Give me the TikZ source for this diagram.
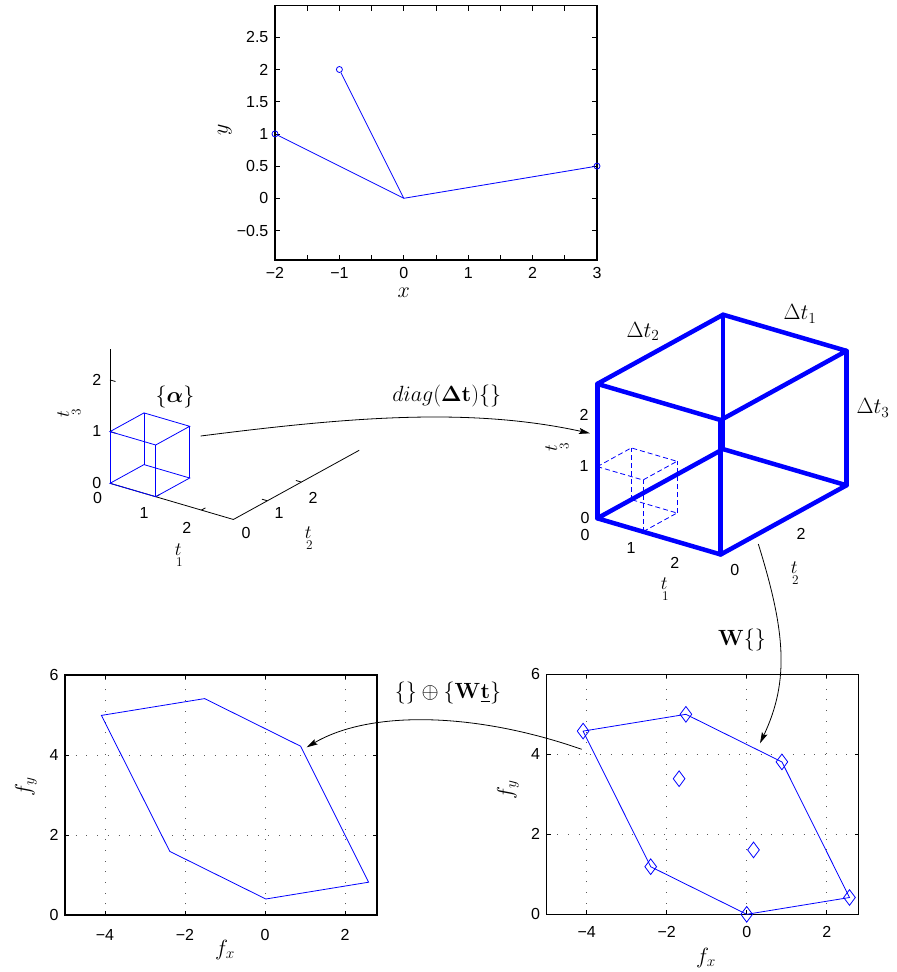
\documentclass[tikz,border=0pt]{standalone}
\usepackage{fix-cm}
\usepackage{amsmath,amssymb,bm}
\usepackage[no-math]{fontspec}
\newfontfamily\ticksans{Liberation Sans}
\usetikzlibrary{arrows.meta,shapes.geometric}

% subscript set low, as the plotting program does it
\newcommand{\lowsub}[2]{#1\mkern-5mu{}_{\raisebox{-8.5pt}{$\scriptstyle #2$}}}

\begin{document}
\begin{tikzpicture}[
  x=1pt, y=-1pt,
  axbox/.style={line width=1.4pt},
  tickmark/.style={line width=0.8pt},
  gridline/.style={black!65, line width=0.9pt, dash pattern=on 0.9pt off 9.8pt},
  dataline/.style={blue, line width=0.8pt},
  ticklab/.style={font=\ticksans\fontsize{16}{19}\selectfont, inner sep=0pt},
  mathlab/.style={font=\fontsize{22}{26}\selectfont, inner sep=0pt},
  tlab/.style={font=\fontsize{19}{23}\selectfont, inner sep=0pt},
  ringmark/.style={draw=blue, line width=0.8pt, circle, minimum size=6pt, inner sep=0pt},
  diamark/.style={draw=blue, line width=0.8pt, diamond, minimum width=12pt, minimum height=16pt, inner sep=0pt},
  mapping/.style={line width=0.8pt, -{Stealth[length=11pt,width=6pt,inset=2pt]}},
  thinbox/.style={blue, line width=0.8pt},
  hidbox/.style={blue, line width=0.8pt, dash pattern=on 5pt off 3pt},
  bigbox/.style={blue, line width=4.5pt, line cap=round, line join=round}
]
\useasboundingbox (0,0) rectangle (897,972);

% vectors in the (x,y) plane
\begin{scope}[shift={(403.8,198.3)}, x=64.4pt, y=64.4pt]
  \draw[axbox] (-2,-0.96) rectangle (3,2.99);
  \foreach \u in {-1.5,-1,...,2.5} {
    \draw[tickmark] (\u,-0.96) -- ++(0,0.08);
    \draw[tickmark] (\u,2.99) -- ++(0,-0.08);
  }
  \foreach \v in {-0.5,0,...,2.5} {
    \draw[tickmark] (-2,\v) -- ++(0.08,0);
    \draw[tickmark] (3,\v) -- ++(-0.08,0);
  }
  \foreach \u/\s [count=\k] in {-2/−2, -1/−1, 0/0, 1/1, 2/2, 3/3}
    \node[ticklab] (tx\k) at (\u,-1.16) {\s};
  \foreach \v/\s [count=\k] in {-0.5/−0.5, 0/0, 0.5/0.5, 1/1, 1.5/1.5, 2/2, 2.5/2.5}
    \node[ticklab, anchor=east] (ty\k) at (-2.1,\v) {\s};
  \coordinate (po) at (0,0);
  \node[ringmark] (pa) at (-2,1) {};
  \node[ringmark] (pb) at (-1,2) {};
  \node[ringmark] (pc) at (3,0.5) {};
  \draw[dataline] (pa) -- (po) -- (pc);
  \draw[dataline] (pb) -- (po);
  \node[mathlab] (xlab) at (0,-1.47) {$x$};
  \node[mathlab, rotate=90] (ylab) at (-2.78,1.06) {$y$};
\end{scope}

% unit cube in t-space
\begin{scope}[shift={(110,483.3)}, x={(45.7pt,-13.4pt)}, y={(34pt,18.7pt)}, z={(0pt,51.7pt)}]
  \draw[tickmark] (0,0,0) -- (0,0,2.6);
  \draw[tickmark] (0,0,0) -- (2.7,0,0) -- (2.7,3.7,0);
  \foreach \w in {1,2} {
    \draw[tickmark] (0,0,\w) -- ++(0.12,0,0);
    \draw[tickmark] (\w,0,0) -- ++(0,0.12,0);
    \draw[tickmark] (2.7,\w,0) -- ++(-0.12,0,0);
  }
  \draw[thinbox] (0,0,0) -- (1,0,0) -- (1,1,0) -- (0,1,0) -- cycle;
  \draw[thinbox] (0,0,1) -- (1,0,1) -- (1,1,1) -- (0,1,1) -- cycle;
  \foreach \a/\b in {0/0,1/0,1/1,0/1}
    \draw[thinbox] (\a,\b,0) -- (\a,\b,1);
\end{scope}

% scaled box in t-space
\begin{scope}[shift={(597.3,518.3)}, x={(45.7pt,-13.4pt)}, y={(34pt,18.7pt)}, z={(0pt,51.7pt)}]
  \draw[hidbox] (0,0,0) -- (1,0,0) -- (1,1,0) -- (0,1,0) -- cycle;
  \draw[hidbox] (0,0,1) -- (1,0,1) -- (1,1,1) -- (0,1,1) -- cycle;
  \foreach \a/\b in {0/0,1/0,1/1,0/1}
    \draw[hidbox] (\a,\b,0) -- (\a,\b,1);
  \draw[bigbox] (0,0,0) -- (2.7,0,0) -- (2.7,3.7,0) -- (0,3.7,0) -- cycle;
  \draw[bigbox] (0,0,2.6) -- (2.7,0,2.6) -- (2.7,3.7,2.6) -- (0,3.7,2.6) -- cycle;
  \foreach \a/\b in {0/0,2.7/0,2.7/3.7,0/3.7}
    \draw[bigbox] (\a,\b,0) -- (\a,\b,2.6);
\end{scope}

% tick labels of the two cube plots
\foreach \px/\py/\s [count=\k] in {96.7/483/0, 96.7/431/1, 96.7/380/2,
    97.5/498.3/0, 144/513.3/1, 186.7/527.5/2, 246/533.3/0, 279/513.3/1, 313/498/2,
    585/518/0, 584/466/1, 584/414.5/2, 585/535/0, 631/548.3/1, 674.7/563/2,
    734.7/570/0, 801/534/2}
  \node[ticklab] (ct\k) at (\px,\py) {\s};
\node[tlab, rotate=90] (lt3) at (69,413) {$\lowsub{t}{3}$};
\node[tlab] (lt1) at (179,555) {$\lowsub{t}{1}$};
\node[tlab] (lt2) at (309,538) {$\lowsub{t}{2}$};
\node[tlab, rotate=90] (rt3) at (557,447) {$\lowsub{t}{3}$};
\node[tlab] (rt1) at (665,589) {$\lowsub{t}{1}$};
\node[tlab] (rt2) at (795,573) {$\lowsub{t}{2}$};
\node[mathlab] (alphalab) at (175,396.7) {$\{\boldsymbol{\alpha}\}$};
\node[mathlab] (dt1) at (800,314) {$\Delta t_1$};
\node[mathlab] (dt2) at (643,331.7) {$\Delta t_2$};
\node[mathlab] (dt3) at (873,408) {$\Delta t_3$};

% Minkowski sum result
\begin{scope}[shift={(265,915)}, x=40pt, y=40pt]
  \foreach \u in {-4,-2,0,2} \draw[gridline] (\u,0) -- (\u,6);
  \foreach \v in {2,4} \draw[gridline] (-5,\v) -- (2.8,\v);
  \draw[axbox] (-5,0) rectangle (2.8,6);
  \foreach \u in {-4,-2,0,2} {
    \draw[tickmark] (\u,0) -- ++(0,0.1);
    \draw[tickmark] (\u,6) -- ++(0,-0.1);
  }
  \foreach \v in {2,4} {
    \draw[tickmark] (-5,\v) -- ++(0.1,0);
    \draw[tickmark] (2.8,\v) -- ++(-0.1,0);
  }
  \draw[dataline] (0.02,0.4) -- (2.59,0.82) -- (0.89,4.22) -- (-1.51,5.41)
    -- (-4.09,4.99) -- (-2.38,1.59) -- cycle;
  \foreach \u/\s [count=\k] in {-4/−4, -2/−2, 0/0, 2/2}
    \node[ticklab] (lfx\k) at (\u,-0.5) {\s};
  \foreach \v [count=\k] in {0,2,4,6}
    \node[ticklab, anchor=east] (lfy\k) at (-5.16,\v) {\v};
\end{scope}
\node[mathlab] (lfxlab) at (225,950) {$f_x$};
\node[mathlab, rotate=90] (lfylab) at (26,787) {$f_y$};

% image of the box under W
\begin{scope}[shift={(746.7,914.3)}, x=40pt, y=40pt]
  \foreach \u in {-4,-2,0,2} \draw[gridline] (\u,0) -- (\u,6);
  \foreach \v in {2,4} \draw[gridline] (-5,\v) -- (2.8,\v);
  \draw[axbox] (-5,0) rectangle (2.8,6);
  \foreach \u in {-4,-2,0,2} {
    \draw[tickmark] (\u,0) -- ++(0,0.1);
    \draw[tickmark] (\u,6) -- ++(0,-0.1);
  }
  \foreach \v in {2,4} {
    \draw[tickmark] (-5,\v) -- ++(0.1,0);
    \draw[tickmark] (2.8,\v) -- ++(-0.1,0);
  }
  \node[diamark] (d000) at (0,0) {};
  \node[diamark] (d100) at (2.57,0.42) {};
  \node[diamark] (d010) at (-2.4,1.19) {};
  \node[diamark] (d001) at (-1.69,3.39) {};
  \node[diamark] (d110) at (0.17,1.61) {};
  \node[diamark] (d101) at (0.88,3.81) {};
  \node[diamark] (d011) at (-4.09,4.58) {};
  \node[diamark] (d111) at (-1.52,5.0) {};
  \draw[dataline] (d000.center) -- (d100.center) -- (d101.center) -- (d111.center)
    -- (d011.center) -- (d010.center) -- cycle;
  \foreach \u/\s [count=\k] in {-4/−4, -2/−2, 0/0, 2/2}
    \node[ticklab] (rfx\k) at (\u,-0.44) {\s};
  \foreach \v [count=\k] in {0,2,4,6}
    \node[ticklab, anchor=east] (rfy\k) at (-5.16,\v) {\v};
\end{scope}
\node[mathlab] (rfxlab) at (706,958) {$f_x$};
\node[mathlab, rotate=90] (rfylab) at (508,790) {$f_y$};

% mappings between the plots
\coordinate (diagS) at (200.7,436);
\coordinate (diagE) at (590,433.3);
\coordinate (wS) at (758.3,544);
\coordinate (wE) at (760,743.3);
\coordinate (sumS) at (581.7,749.3);
\coordinate (sumE) at (306.7,747.3);
\draw[mapping] (diagS) .. controls (350,417) and (470,407) .. (diagE);
\draw[mapping] (wS) .. controls (785,630) and (790,680) .. (wE);
\draw[mapping] (sumS) .. controls (475,712) and (370,710) .. (sumE);
\node[mathlab] (diaglab) at (446.7,395.8) {$diag(\boldsymbol{\Delta}\mathbf{t})\{\}$};
\node[mathlab] (wlab) at (742,640) {$\mathbf{W}\{\}$};
\node[mathlab] (sumlab) at (448,692.5) {$\{\}\oplus\{\mathbf{W}\underline{\mathbf{t}}\}$};
\end{tikzpicture}
\end{document}
